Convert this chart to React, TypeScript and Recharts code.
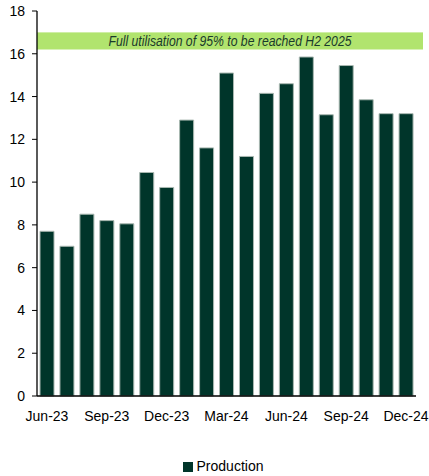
import React from "react";
import { BarChart, Bar, XAxis, YAxis, Legend, ReferenceArea, Label } from "recharts";

const months = [
  "Jun-23", "Jul-23", "Aug-23", "Sep-23", "Oct-23", "Nov-23", "Dec-23",
  "Jan-24", "Feb-24", "Mar-24", "Apr-24", "May-24", "Jun-24", "Jul-24",
  "Aug-24", "Sep-24", "Oct-24", "Nov-24", "Dec-24",
];
const production = [
  7.7, 7.0, 8.5, 8.2, 8.05, 10.45, 9.75, 12.9, 11.6, 15.1, 11.2, 14.15,
  14.6, 15.85, 13.15, 15.45, 13.85, 13.2, 13.2,
];
const yTicks = [0, 2, 4, 6, 8, 10, 12, 14, 16, 18];
const bandLow = 16.2;
const bandHigh = 17.0;
const bandText = "Full utilisation of 95% to be reached H2 2025";

const data = months.map((m, i) => ({ month: m, Production: production[i] }));

const FONT = "'Liberation Sans', Arial, sans-serif";

const BandShape = (props: any) => {
  const { x, y, width, height } = props;
  return <rect x={x} y={y} width={width + 7} height={height} fill="#b1e46e" />;
};

const BandLabel = (props: any) => {
  const vb = props.viewBox || {};
  const cx = vb.x + (vb.width + 7) / 2;
  const cy = vb.y + vb.height / 2;
  return (
    <text
      x={cx}
      y={cy}
      textAnchor="middle"
      dominantBaseline="central"
      fill="#1a3a2b"
      fontSize={14}
      fontStyle="italic"
      fontFamily={FONT}
      textLength={243}
      lengthAdjust="spacingAndGlyphs"
    >
      {bandText}
    </text>
  );
};

export default function App() {
  return (
    <div style={{ position: "absolute", left: 0, top: 0, fontFamily: FONT }}>
      <BarChart
        width={429}
        height={476}
        data={data}
        margin={{ top: 11, right: 13, left: 0, bottom: 2 }}
        barCategoryGap={3}
      >
        <XAxis
          dataKey="month"
          interval={2}
          tickLine={false}
          tickMargin={9}
          height={62}
          axisLine={{ stroke: "#000", strokeWidth: 1.3 }}
          tick={{ fill: "#000", fontSize: 14, fontFamily: FONT }}
        />
        <YAxis
          domain={[0, 18]}
          ticks={yTicks}
          width={37}
          tickSize={5}
          tickMargin={7}
          axisLine={{ stroke: "#000", strokeWidth: 1.3 }}
          tickLine={{ stroke: "#000" }}
          tick={{ fill: "#000", fontSize: 14, fontFamily: FONT }}
        />
        <ReferenceArea
          y1={bandLow}
          y2={bandHigh}
          ifOverflow="visible"
          shape={BandShape}
        >
          <Label content={BandLabel} />
        </ReferenceArea>
        <Bar
          dataKey="Production"
          fill="#00352a"
          stroke="#a9b8b1"
          strokeWidth={1}
          isAnimationActive={false}
        />
        <Legend
          verticalAlign="bottom"
          iconType="square"
          iconSize={10}
          wrapperStyle={{ left: 0, width: 456, fontSize: 14, fontFamily: FONT, color: "#000" }}
          formatter={(v: string) => <span style={{ color: "#000" }}>{v}</span>}
        />
      </BarChart>
    </div>
  );
}
